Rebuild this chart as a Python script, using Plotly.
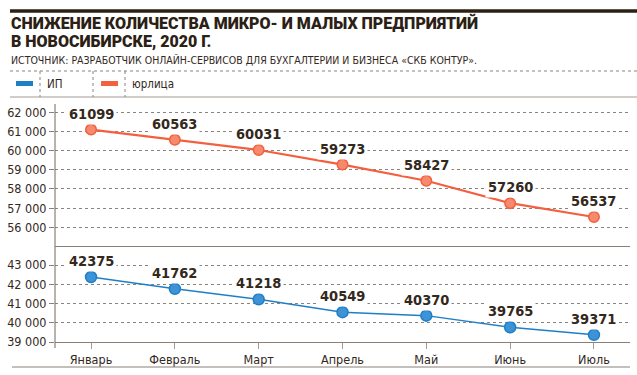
import plotly.graph_objects as go

months = ["Январь", "Февраль", "Март", "Апрель", "Май", "Июнь", "Июль"]
ip_values = [42375, 41762, 41218, 40549, 40370, 39765, 39371]
ul_values = [61099, 60563, 60031, 59273, 58427, 57260, 56537]
upper_ticks = [56000, 57000, 58000, 59000, 60000, 61000, 62000]
upper_ticktext = ["56 000", "57 000", "58 000", "59 000", "60 000", "61 000", "62 000"]
lower_ticks = [39000, 40000, 41000, 42000, 43000]
lower_ticktext = ["39 000", "40 000", "41 000", "42 000", "43 000"]
series_names = ["ИП", "юрлица"]

title_lines = ["СНИЖЕНИЕ КОЛИЧЕСТВА МИКРО- И МАЛЫХ ПРЕДПРИЯТИЙ", "В НОВОСИБИРСКЕ, 2020 Г."]
source_text = "ИСТОЧНИК: РАЗРАБОТЧИК ОНЛАЙН-СЕРВИСОВ ДЛЯ БУХГАЛТЕРИИ И БИЗНЕСА «СКБ КОНТУР»."

W, H = 637, 375
BLUE = "#1f7fc6"
BLUE_FILL = "#3d93d6"
ORANGE = "#f2603f"
ORANGE_FILL = "#f58a6c"
TEXT = "#33281c"
GRID = "#8c8279"
NARROW = "Liberation Sans Narrow, DejaVu Sans Condensed, sans-serif"

def px(x):
    return x / W

def py(y):
    return 1 - y / H

fig = go.Figure()
fig.add_trace(go.Scatter(
    x=months, y=ul_values, xaxis="x2", yaxis="y2", mode="lines+markers",
    line=dict(color=ORANGE, width=2.2),
    marker=dict(size=10.5, color=ORANGE_FILL, line=dict(color=ORANGE, width=1.5)),
    name=series_names[1], showlegend=False, cliponaxis=False, hoverinfo="skip"))
fig.add_trace(go.Scatter(
    x=months, y=ip_values, xaxis="x", yaxis="y", mode="lines+markers",
    line=dict(color=BLUE, width=1.5),
    marker=dict(size=11, color=BLUE_FILL, line=dict(color=BLUE, width=1.5)),
    name=series_names[0], showlegend=False, cliponaxis=False, hoverinfo="skip"))

annotations = []
for m, v in zip(months, ul_values):
    annotations.append(dict(x=m, y=v, xref="x2", yref="y2", text=f"<b>{v}</b>",
                            showarrow=False, yshift=16, bgcolor="white", borderpad=2,
                            font=dict(family=NARROW, size=14.5, color=TEXT)))
for m, v in zip(months, ip_values):
    annotations.append(dict(x=m, y=v, xref="x", yref="y", text=f"<b>{v}</b>",
                            showarrow=False, yshift=16, bgcolor="white", borderpad=2,
                            font=dict(family=NARROW, size=14.5, color=TEXT)))

# title & source
annotations.append(dict(x=px(9), y=py(23), xref="paper", yref="paper", xanchor="left", yanchor="middle",
                        text=title_lines[0], showarrow=False, align="left",
                        font=dict(family="Roboto, Arial, sans-serif", size=16, weight=900, color="#2b2014")))
annotations.append(dict(x=px(9), y=py(42), xref="paper", yref="paper", xanchor="left", yanchor="middle",
                        text=title_lines[1], showarrow=False, align="left",
                        font=dict(family="Roboto, Arial, sans-serif", size=16, weight=900, color="#2b2014")))
annotations.append(dict(x=px(9), y=py(60), xref="paper", yref="paper", xanchor="left", yanchor="middle",
                        text=source_text, showarrow=False, align="left",
                        font=dict(family=NARROW, size=10.5, color=TEXT)))
# legend labels
annotations.append(dict(x=px(45), y=py(84), xref="paper", yref="paper", xanchor="left", yanchor="middle",
                        text=series_names[0], showarrow=False, font=dict(family=NARROW, size=11.5, color=TEXT)))
annotations.append(dict(x=px(130), y=py(84), xref="paper", yref="paper", xanchor="left", yanchor="middle",
                        text=series_names[1], showarrow=False, font=dict(family=NARROW, size=11.5, color=TEXT)))

shapes = [
    # top thick rule
    dict(type="line", xref="paper", yref="paper", x0=px(10), x1=1, y0=py(11), y1=py(11),
         line=dict(color="#2b2014", width=3.5)),
    # legend separators
    dict(type="line", xref="paper", yref="paper", x0=px(10), x1=1, y0=py(71), y1=py(71),
         line=dict(color=GRID, width=1, dash="dot")),
    dict(type="line", xref="paper", yref="paper", x0=px(10), x1=1, y0=py(97), y1=py(97),
         line=dict(color="#a39a92", width=1)),
    dict(type="line", xref="paper", yref="paper", x0=px(40), x1=px(40), y0=py(71), y1=py(97),
         line=dict(color=GRID, width=1, dash="dot")),
    dict(type="line", xref="paper", yref="paper", x0=px(93), x1=px(93), y0=py(71), y1=py(97),
         line=dict(color=GRID, width=1, dash="dot")),
    dict(type="line", xref="paper", yref="paper", x0=px(125), x1=px(125), y0=py(71), y1=py(97),
         line=dict(color=GRID, width=1, dash="dot")),
    # legend swatches
    dict(type="rect", xref="paper", yref="paper", x0=px(16), x1=px(33), y0=py(81), y1=py(86),
         fillcolor=BLUE, line=dict(width=0)),
    dict(type="rect", xref="paper", yref="paper", x0=px(101), x1=px(118), y0=py(81), y1=py(86),
         fillcolor=ORANGE, line=dict(width=0)),
    # left axis line
    dict(type="line", xref="paper", yref="paper", x0=px(55), x1=px(55), y0=py(104), y1=py(348),
         line=dict(color="#8a8078", width=1.2)),
    # bottom rule
    dict(type="line", xref="paper", yref="paper", x0=px(12), x1=px(630), y0=py(367), y1=py(367),
         line=dict(color="#8a8078", width=1.2)),
]

x_dom = [px(55), px(630)]
xr = [-0.43, 6.43]

fig.update_layout(
    width=W, height=H, margin=dict(l=0, r=0, t=0, b=0, autoexpand=False),
    paper_bgcolor="white", plot_bgcolor="white",
    showlegend=False, hovermode=False,
    xaxis=dict(domain=x_dom, anchor="y", type="category", range=xr, automargin=False,
               showline=True, mirror=True, linecolor="#8a8078", linewidth=1.2,
               ticks="outside", ticklen=6, tickcolor="#a39a92",
               showgrid=False, zeroline=False,
               tickfont=dict(family=NARROW, size=12.5, color=TEXT)),
    yaxis=dict(domain=[py(342), py(247)], anchor="x", range=[39000, 43935], automargin=False,
               tickvals=lower_ticks, ticktext=lower_ticktext,
               ticks="outside", ticklen=5, tickcolor="#8a8078",
               showgrid=True, gridcolor=GRID, griddash="dot", gridwidth=1,
               showline=False, zeroline=False,
               tickfont=dict(family=NARROW, size=12.5, color=TEXT)),
    xaxis2=dict(domain=x_dom, anchor="y2", type="category", range=xr, matches="x",
                visible=False, automargin=False),
    yaxis2=dict(domain=[py(240), py(105)], anchor="x2", range=[55337, 62381], automargin=False,
                tickvals=upper_ticks, ticktext=upper_ticktext,
                ticks="outside", ticklen=5, tickcolor="#8a8078",
                showgrid=True, gridcolor=GRID, griddash="dot", gridwidth=1,
                showline=False, zeroline=False,
                tickfont=dict(family=NARROW, size=12.5, color=TEXT)),
    annotations=annotations,
    shapes=shapes,
)

fig.write_html("out.html", config={"displayModeBar": False},
               post_script="document.body.style.margin='0px';document.body.style.overflow='hidden';")
